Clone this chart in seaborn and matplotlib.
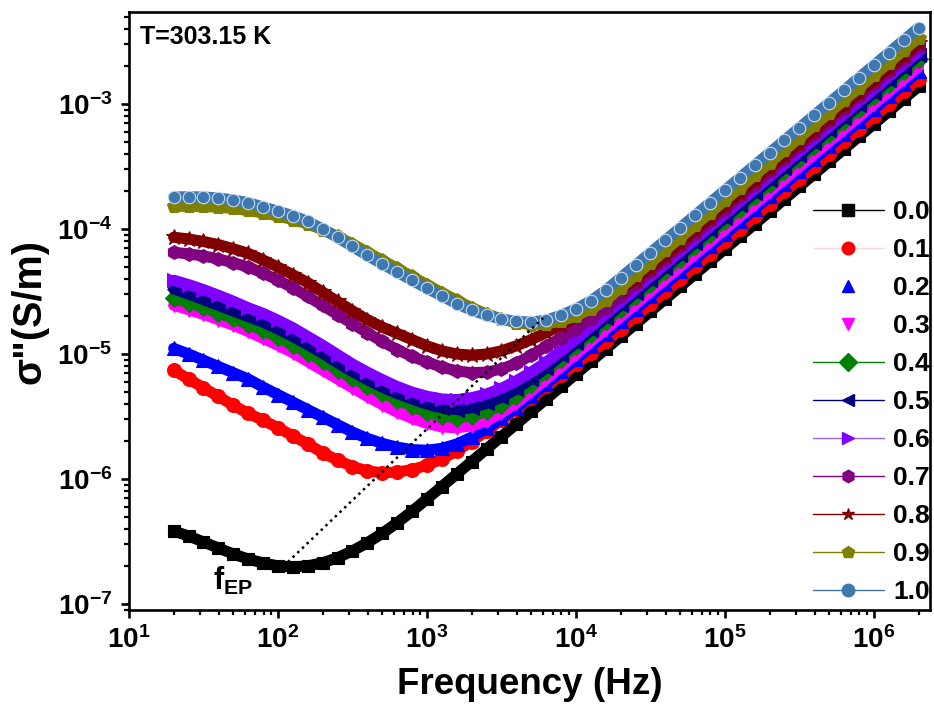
import numpy as np
import matplotlib
matplotlib.use("Agg")
import matplotlib.pyplot as plt
import seaborn as sns
from matplotlib.lines import Line2D
from matplotlib.ticker import LogLocator, FuncFormatter, NullFormatter

sns.set_theme(style="white")
plt.rcParams.update({
    "font.family": ["Liberation Sans", "DejaVu Sans"],
    "font.weight": "bold",
    "mathtext.fontset": "custom",
    "mathtext.rm": "Liberation Sans:bold",
    "mathtext.it": "Liberation Sans:bold",
    "mathtext.bf": "Liberation Sans:bold",
    "mathtext.sf": "Liberation Sans:bold",
    "axes.linewidth": 1.9,
    "text.color": "black",
    "axes.labelcolor": "black",
    "xtick.color": "black",
    "ytick.color": "black",
    "axes.edgecolor": "black",
})

# ---------------- data ----------------
log_freq = [1.3, 1.4, 1.5, 1.6, 1.7, 1.8, 1.9, 2.0, 2.1, 2.2, 2.3, 2.4, 2.5, 2.6, 2.7, 2.8, 2.9,
            3.0, 3.1, 3.2, 3.3, 3.4, 3.5, 3.6, 3.7, 3.8, 3.9, 4.0, 4.1, 4.2, 4.3, 4.4, 4.5,
            4.6, 4.7, 4.8, 4.9, 5.0, 5.1, 5.2, 5.3, 5.4, 5.5, 5.6, 5.7, 5.8, 5.9, 6.0, 6.1,
            6.2, 6.3]

labels = ["0.0", "0.1", "0.2", "0.3", "0.4", "0.5", "0.6", "0.7", "0.8", "0.9", "1.0"]

# log10 of sigma'' (S/m)
log_sigma_00 = [-6.416, -6.456, -6.504, -6.552, -6.6, -6.64, -6.672, -6.695, -6.703, -6.695, -6.67,
                -6.63, -6.575, -6.51, -6.435, -6.35, -6.258, -6.16, -6.06, -5.96, -5.86, -5.76,
                -5.66, -5.56, -5.46, -5.36, -5.26, -5.16, -5.06, -4.96, -4.86, -4.76, -4.66,
                -4.56, -4.46, -4.36, -4.26, -4.16, -4.06, -3.96, -3.86, -3.76, -3.66, -3.56,
                -3.46, -3.36, -3.26, -3.16, -3.06, -2.96, -2.86]
log_sigma_01 = [-5.13, -5.2, -5.27, -5.34, -5.41, -5.475, -5.53, -5.59, -5.655, -5.72, -5.79,
                -5.85, -5.9, -5.935, -5.95, -5.945, -5.925, -5.89, -5.84, -5.775, -5.7, -5.615,
                -5.53, -5.44, -5.35, -5.26, -5.17, -5.08, -4.99, -4.9, -4.8, -4.7, -4.6,
                -4.5, -4.4, -4.3, -4.2, -4.1, -4.0, -3.9, -3.8, -3.7, -3.6, -3.5,
                -3.4, -3.3, -3.2, -3.1, -3.0, -2.9, -2.8]
log_sigma_02 = [-4.955, -5.0, -5.05, -5.1, -5.15, -5.2, -5.265, -5.325, -5.385, -5.445, -5.505,
                -5.565, -5.625, -5.675, -5.715, -5.745, -5.765, -5.77, -5.755, -5.72, -5.665, -5.595,
                -5.515, -5.43, -5.337, -5.24, -5.14, -5.04, -4.94, -4.84, -4.74, -4.64, -4.54,
                -4.44, -4.34, -4.24, -4.14, -4.04, -3.94, -3.84, -3.74, -3.64, -3.54, -3.44,
                -3.34, -3.24, -3.14, -3.04, -2.94, -2.84, -2.74]
log_sigma_03 = [-4.61, -4.645, -4.683, -4.725, -4.77, -4.82, -4.875, -4.93, -4.99, -5.06, -5.13,
                -5.2, -5.27, -5.34, -5.405, -5.465, -5.515, -5.555, -5.583, -5.59, -5.575, -5.535,
                -5.47, -5.39, -5.297, -5.2, -5.1, -5.0, -4.9, -4.8, -4.7, -4.6, -4.5,
                -4.4, -4.3, -4.2, -4.1, -4.0, -3.9, -3.8, -3.7, -3.6, -3.5, -3.4,
                -3.3, -3.2, -3.1, -3.0, -2.9, -2.8, -2.7]
log_sigma_04 = [-4.555, -4.59, -4.628, -4.67, -4.715, -4.76, -4.81, -4.865, -4.925, -4.99, -5.055,
                -5.125, -5.19, -5.255, -5.31, -5.365, -5.42, -5.465, -5.495, -5.51, -5.495, -5.46,
                -5.41, -5.335, -5.24, -5.14, -5.04, -4.94, -4.84, -4.74, -4.64, -4.54, -4.44,
                -4.34, -4.24, -4.14, -4.04, -3.94, -3.84, -3.74, -3.64, -3.54, -3.44, -3.34,
                -3.24, -3.14, -3.04, -2.94, -2.84, -2.74, -2.64]
log_sigma_05 = [-4.48, -4.52, -4.565, -4.61, -4.655, -4.7, -4.745, -4.8, -4.86, -4.925, -4.995,
                -5.07, -5.14, -5.205, -5.265, -5.315, -5.36, -5.4, -5.43, -5.445, -5.43, -5.395,
                -5.345, -5.28, -5.2, -5.11, -5.01, -4.91, -4.81, -4.71, -4.61, -4.51, -4.41,
                -4.31, -4.21, -4.11, -4.01, -3.91, -3.81, -3.71, -3.61, -3.51, -3.41, -3.31,
                -3.21, -3.11, -3.01, -2.91, -2.81, -2.71, -2.61]
log_sigma_06 = [-4.41, -4.445, -4.485, -4.53, -4.578, -4.63, -4.675, -4.73, -4.79, -4.86, -4.93,
                -5.005, -5.08, -5.145, -5.205, -5.26, -5.305, -5.338, -5.36, -5.365, -5.35, -5.32,
                -5.275, -5.215, -5.145, -5.065, -4.975, -4.88, -4.78, -4.68, -4.58, -4.48, -4.38,
                -4.28, -4.18, -4.08, -3.98, -3.88, -3.78, -3.68, -3.58, -3.48, -3.38, -3.28,
                -3.18, -3.08, -2.98, -2.88, -2.78, -2.68, -2.58]
log_sigma_07 = [-4.186, -4.2, -4.215, -4.24, -4.27, -4.305, -4.352, -4.41, -4.47, -4.54, -4.612,
                -4.685, -4.758, -4.83, -4.9, -4.965, -5.02, -5.065, -5.105, -5.135, -5.15, -5.145,
                -5.12, -5.075, -5.01, -4.94, -4.87, -4.8, -4.72, -4.632, -4.54, -4.44, -4.34,
                -4.24, -4.14, -4.04, -3.94, -3.84, -3.74, -3.64, -3.54, -3.44, -3.34, -3.24,
                -3.14, -3.04, -2.94, -2.84, -2.74, -2.64, -2.54]
log_sigma_08 = [-4.066, -4.08, -4.1, -4.125, -4.158, -4.195, -4.248, -4.305, -4.366, -4.43, -4.505,
                -4.58, -4.655, -4.725, -4.785, -4.835, -4.885, -4.935, -4.975, -5.0, -5.01, -5.0,
                -4.975, -4.935, -4.885, -4.83, -4.77, -4.705, -4.635, -4.56, -4.48, -4.405, -4.31,
                -4.21, -4.11, -4.01, -3.91, -3.81, -3.71, -3.61, -3.51, -3.41, -3.31, -3.21,
                -3.11, -3.01, -2.91, -2.81, -2.71, -2.61, -2.51]
log_sigma_09 = [-3.82, -3.818, -3.82, -3.826, -3.836, -3.852, -3.872, -3.896, -3.925, -3.96, -4.005,
                -4.06, -4.12, -4.185, -4.25, -4.315, -4.38, -4.445, -4.51, -4.57, -4.63, -4.68,
                -4.72, -4.75, -4.765, -4.76, -4.735, -4.695, -4.64, -4.57, -4.47, -4.37, -4.27,
                -4.17, -4.07, -3.97, -3.87, -3.77, -3.67, -3.57, -3.47, -3.37, -3.27, -3.17,
                -3.07, -2.97, -2.87, -2.77, -2.67, -2.57, -2.47]
log_sigma_10 = [-3.744, -3.742, -3.744, -3.752, -3.768, -3.79, -3.824, -3.858, -3.894, -3.94, -4.0,
                -4.068, -4.14, -4.212, -4.28, -4.345, -4.41, -4.475, -4.535, -4.598, -4.65, -4.69,
                -4.72, -4.74, -4.745, -4.73, -4.69, -4.64, -4.575, -4.49, -4.39, -4.29, -4.19,
                -4.09, -3.99, -3.89, -3.79, -3.69, -3.59, -3.49, -3.39, -3.29, -3.19, -3.09,
                -2.99, -2.89, -2.79, -2.69, -2.59, -2.49, -2.39]

# f_EP guide line (through the minima)
fep_freq = [116.7, 6010.0]
fep_sigma = [2.17e-7, 1.94e-5]

# ---------------- styling ----------------
series = [log_sigma_00, log_sigma_01, log_sigma_02, log_sigma_03, log_sigma_04, log_sigma_05,
          log_sigma_06, log_sigma_07, log_sigma_08, log_sigma_09, log_sigma_10]
colors = ["#000000", "#ff0000", "#0000ff", "#ff00ff", "#008000", "#000080",
          "#8000ff", "#800080", "#800000", "#808000", "#3f78b0"]
markers = ["s", "o", "^", "v", "D", "<", ">", "h", "*", "p", "o"]
sizes = [9, 10, 10, 10, 9, 10, 10, 10, 12, 10, 9]
legend_line_colors = ["#000000", "#ffd8d8", "none", "none", "#008000", "#000080",
                      "#9966ff", "#800080", "#800000", "#808000", "#3f78b0"]

freq = 10 ** np.array(log_freq)

fig = plt.figure(figsize=(9.34, 7.16), dpi=100)
ax = fig.add_axes([0.1381, 0.1480, 0.8576, 0.8352])

for vals, c, m, ms in zip(series, colors, markers, sizes):
    assert len(vals) == len(log_freq)
    mec = "#c8dcf0" if c == "#3f78b0" else c
    sns.lineplot(x=freq, y=10 ** np.array(vals), ax=ax, color=c, marker=m,
                 markersize=ms, linewidth=8, markeredgecolor=mec, markeredgewidth=0.8,
                 legend=False, estimator=None, sort=False)

ax.plot(fep_freq, fep_sigma, color="black", linestyle=(0, (1, 1.6)), linewidth=1.8)

ax.set_xscale("log")
ax.set_yscale("log")
ax.set_xlim(10, 2.38e6)
ax.set_ylim(8.95e-8, 5.44e-3)

fmt = FuncFormatter(lambda v, p: r"$\mathbf{10^{%d}}$" % int(round(np.log10(v))))
ax.xaxis.set_major_locator(LogLocator(base=10, numticks=12))
ax.yaxis.set_major_locator(LogLocator(base=10, numticks=12))
ax.xaxis.set_minor_locator(LogLocator(base=10, subs=np.arange(2, 10), numticks=12))
ax.yaxis.set_minor_locator(LogLocator(base=10, subs=np.arange(2, 10), numticks=12))
ax.xaxis.set_major_formatter(fmt)
ax.yaxis.set_major_formatter(fmt)
ax.xaxis.set_minor_formatter(NullFormatter())
ax.yaxis.set_minor_formatter(NullFormatter())

ax.tick_params(axis="both", which="major", direction="out", length=6, width=1.9,
               labelsize=20, pad=6, bottom=True, left=True, top=False, right=False,
               color="black", labelcolor="black")
ax.tick_params(axis="both", which="minor", direction="out", length=3.5, width=1.6,
               bottom=True, left=True, top=False, right=False, color="black")
for s in ax.spines.values():
    s.set_color("black")
    s.set_linewidth(1.9)

ax.set_xlabel("Frequency (Hz)", fontsize=26.5, fontweight="bold", labelpad=9, color="black")
ax.set_ylabel('σ"(S/m)', fontsize=28.5, fontweight="bold", labelpad=6, color="black")

ax.text(0.014, 0.978, "T=303.15 K", transform=ax.transAxes, ha="left", va="top",
        fontsize=18, fontweight="bold", color="black")
ax.text(36.6, 1.29e-7, r"$\mathrm{f_{EP}}$", ha="left", va="baseline", fontsize=22,
        color="black")

handles = []
for c, m, lc in zip(colors, markers, legend_line_colors):
    handles.append(Line2D([0], [0], color=lc, linewidth=1.0, marker=m, markersize=9,
                          markerfacecolor=c, markeredgecolor=c))
leg = ax.legend(handles, labels, loc="upper right", bbox_to_anchor=(1.0, 0.685),
                frameon=False, prop={"weight": "bold", "size": 19}, handlelength=2.7,
                handletextpad=0.35, labelspacing=0.53, borderaxespad=0, borderpad=0)
for t in leg.get_texts():
    t.set_color("black")

fig.savefig("out.png", dpi=100)
